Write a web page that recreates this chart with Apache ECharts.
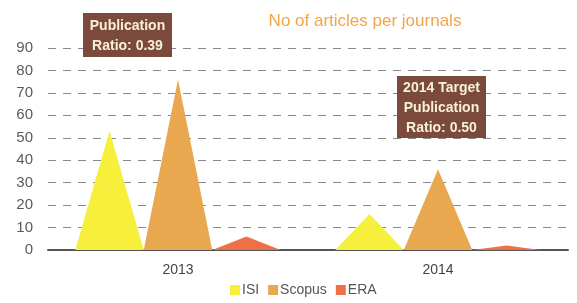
<!DOCTYPE html>
<html><head><meta charset="utf-8">
<script src="https://cdn.jsdelivr.net/npm/echarts@6/dist/echarts.min.js"></script>
<style>html,body{margin:0;padding:0;background:#fff}#c{width:577px;height:303px}</style>
</head><body><div id="c"></div>
<script>
var categories = ['2013', '2014'];
var isi = [53, 16];
var scopus = [76, 36];
var era = [6, 2];
var yTicks = [0, 10, 20, 30, 40, 50, 60, 70, 80, 90];
var titleText = 'No of articles per journals';
var note1 = 'Publication\nRatio: 0.39';
var note2 = '2014 Target\nPublication\nRatio: 0.50';

var chart = echarts.init(document.getElementById('c'));
var font = 'Liberation Sans, Arial, sans-serif';
function tri(name, data, color) {
  return {
    name: name, type: 'pictorialBar', data: data,
    symbol: 'triangle', symbolSize: ['100%', '100%'],
    barGap: '0%', barCategoryGap: '21%',
    itemStyle: { color: color }, z: 3
  };
}
chart.setOption({
  animation: false,
  title: { text: titleText, left: 360, top: 8, textAlign: 'center',
    textStyle: { color: '#f4a447', fontSize: 17, fontWeight: 'normal', fontFamily: font } },
  legend: { bottom: 1, left: 225, itemWidth: 10, itemHeight: 10, itemGap: 9,
    icon: 'rect',
    textStyle: { color: '#555', fontSize: 14, fontFamily: font, padding: [0, 0, 0, -3] },
    data: ['ISI', 'Scopus', 'ERA'] },
  grid: { left: 48, right: 9, top: 48, bottom: 53 },
  xAxis: { type: 'category', data: categories,
    axisLine: { lineStyle: { color: '#555', width: 2 } },
    axisTick: { show: false },
    axisLabel: { color: '#444', fontSize: 14, margin: 13, fontFamily: font } },
  yAxis: { type: 'value', min: yTicks[0], max: yTicks[yTicks.length - 1], interval: 10,
    axisLine: { show: false }, axisTick: { show: false },
    axisLabel: { color: '#5a5a5a', fontSize: 15, margin: 15, fontFamily: font },
    splitLine: { lineStyle: { color: '#8a8a8a', type: [8, 7], width: 1 } } },
  series: [tri('ISI', isi, '#f6f03c'), tri('Scopus', scopus, '#e9a74f'), tri('ERA', era, '#ee7046')],
  graphic: [
    { type: 'rect', left: 83, top: 13, shape: { width: 89, height: 44 },
      style: { fill: '#7b4a3b' }, z: 10 },
    { type: 'text', x: 127.5, y: 16, z: 11,
      style: { text: note1, fill: '#f8f0d8', font: 'bold 14px ' + font, align: 'center', verticalAlign: 'top', lineHeight: 20 } },
    { type: 'rect', left: 397, top: 76, shape: { width: 89, height: 62 },
      style: { fill: '#7b4a3b' }, z: 10 },
    { type: 'text', x: 441.5, y: 78, z: 11,
      style: { text: note2, fill: '#f8f0d8', font: 'bold 14px ' + font, align: 'center', verticalAlign: 'top', lineHeight: 20 } }
  ]
});
</script></body></html>
